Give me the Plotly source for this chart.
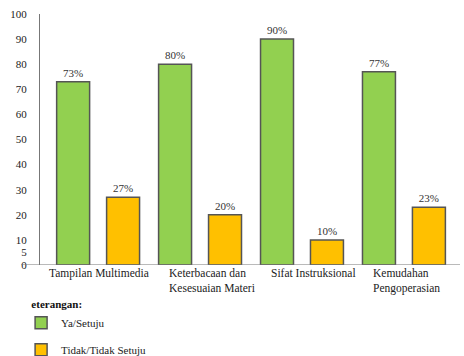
import plotly.graph_objects as go

# Survey results per aspect (percent of respondents)
categories = ["Tampilan Multimedia", "Keterbacaan dan Kesesuaian Materi",
              "Sifat Instruksional", "Kemudahan Pengoperasian"]
category_labels = ["Tampilan Multimedia", "Keterbacaan dan<br>Kesesuaian Materi",
                   "Sifat Instruksional", "Kemudahan<br>Pengoperasian"]
setuju = [73, 80, 90, 77]
tidak_setuju = [27, 20, 10, 23]
y_ticks = [0, 5, 10, 20, 30, 40, 50, 60, 70, 80, 90, 100]

serif = "Liberation Serif, DejaVu Serif, serif"
green = "#92D050"
orange = "#FFC000"
edge = "#555555"

fig = go.Figure()
fig.add_trace(go.Bar(
    x=categories, y=setuju, name="Ya/Setuju", legendgroup="a",
    marker=dict(color=green, line=dict(color=edge, width=1.5)),
    texttemplate="%{y}%", textposition="outside", cliponaxis=False,
    textfont=dict(family=serif, size=11, color="#333333"),
))
fig.add_trace(go.Bar(
    x=categories, y=tidak_setuju, name="Tidak/Tidak Setuju", legendgroup="b",
    marker=dict(color=orange, line=dict(color=edge, width=1.5)),
    texttemplate="%{y}%", textposition="outside", cliponaxis=False,
    textfont=dict(family=serif, size=11, color="#333333"),
))

# left-aligned category captions under each group
label_shift = [-51, -33, -33, -33]
for cat, lab, dx in zip(categories, category_labels, label_shift):
    fig.add_annotation(x=cat, xref="x", y=0, yref="paper", text=lab,
                       xanchor="left", yanchor="top", align="left",
                       xshift=dx, yshift=0, showarrow=False,
                       font=dict(family=serif, size=11.5, color="#222222"))

# baseline extended to the left of the value axis
fig.add_shape(type="line", xref="paper", yref="y", x0=-0.045, x1=1.0, y0=0, y1=0,
              line=dict(color="#777777", width=1.2))

fig.update_layout(
    width=464, height=356,
    margin=dict(l=40, r=4, t=14, b=91, autoexpand=False),
    paper_bgcolor="white", plot_bgcolor="white",
    barmode="group", bargap=0.02, bargroupgap=0.34,
    font=dict(family=serif, size=11, color="#222222"),
    showlegend=True,
    legend=dict(
        title=dict(text="&nbsp;&nbsp;&nbsp;<b>eterangan:</b>", side="top",
                   font=dict(family=serif, size=11, color="#111111")),
        x=-0.045, y=-0.115, xanchor="left", yanchor="top",
        orientation="v", traceorder="grouped", tracegroupgap=8,
        font=dict(family=serif, size=11, color="#222222"),
        bgcolor="rgba(0,0,0,0)",
    ),
    xaxis=dict(range=[-0.57, 3.55], showticklabels=False, showline=False,
               ticks="", showgrid=False, zeroline=False),
    yaxis=dict(range=[0, 100], tickvals=y_ticks, ticks="", showgrid=False,
               zeroline=False, showline=True, linecolor="#777777", linewidth=1.2,
               ticklabelstandoff=10,
               tickfont=dict(family=serif, size=11, color="#222222")),
)

fig.write_html("out.html")
